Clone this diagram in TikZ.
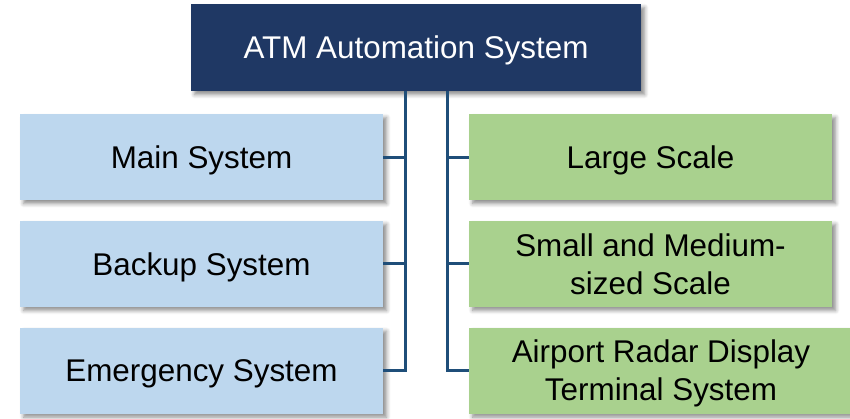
\documentclass[tikz,border=0pt]{standalone}
\usepackage{fontspec}
\setmainfont{Liberation Sans}
\usepackage{tikz}
\usetikzlibrary{positioning,shadows.blur}
\definecolor{atmnavy}{HTML}{1F3864}
\definecolor{atmblue}{HTML}{BDD7EE}
\definecolor{atmgreen}{HTML}{A9D18E}
\definecolor{atmline}{HTML}{1F4E79}
\tikzset{
  boxshadow/.style={blur shadow={shadow xshift=1.8pt, shadow yshift=-1.8pt,
    shadow blur radius=2pt, shadow blur steps=6, shadow opacity=45}},
  topbox/.style={fill=atmnavy, text=white, boxshadow, minimum width=225pt,
    minimum height=43.5pt, align=center, inner sep=0pt, text depth=0pt,
    font=\fontsize{15.7}{19}\selectfont},
  lbox/.style={fill=atmblue, boxshadow, minimum width=181.5pt, minimum height=43pt,
    align=center, inner sep=0pt, text depth=0pt, font=\fontsize{15.7}{19}\selectfont},
  rbox/.style={lbox, fill=atmgreen},
  link/.style={draw=atmline, line width=1.5pt},
}
\begin{document}
\begin{tikzpicture}[x=0.5pt, y=-0.5pt]
\useasboundingbox (0,0) rectangle (850,418);

\node[topbox] (atm) at (416,47.5) {ATM Automation System};

% left column
\node[lbox] (main) at (201.5,157) {Main System};
\node[lbox, below=10pt of main] (backup) {Backup System};
\node[lbox, below=10pt of backup] (emer) {Emergency System};

% right column
\node[rbox] (large) at (650.5,157) {Large Scale};
\node[rbox, below=10pt of large] (small) {Small and Medium-\\sized Scale};
\node[rbox, minimum width=192pt, anchor=north west] (airport)
  at ([yshift=-10pt]small.south west) {Airport Radar Display\\Terminal System};

% trunks
\coordinate (lt) at (405,0);
\coordinate (rt) at (447,0);
\draw[link] (atm.south -| lt) |- (emer.east);
\draw[link] (main.east) -- (main.east -| lt);
\draw[link] (backup.east) -- (backup.east -| lt);
\draw[link] (atm.south -| rt) |- (airport.west);
\draw[link] (large.west) -- (large.west -| rt);
\draw[link] (small.west) -- (small.west -| rt);
\end{tikzpicture}
\end{document}
